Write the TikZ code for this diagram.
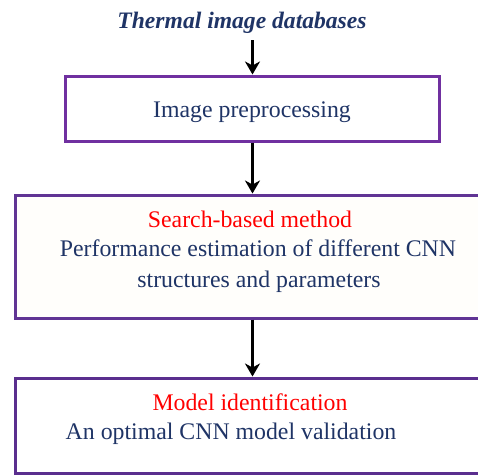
\documentclass[tikz,border=0pt]{standalone}
\usepackage{fontspec}
\setmainfont{Liberation Serif}
\usetikzlibrary{arrows.meta}
\definecolor{navy}{HTML}{1F3466}
\definecolor{purpA}{HTML}{7030A0}
\definecolor{purpB}{HTML}{603494}
\definecolor{purpC}{HTML}{5A2E8E}
\definecolor{cream}{HTML}{FFFEFB}
\tikzset{
  box/.style={draw, line width=3pt, inner sep=0pt, minimum width=#1},
  txt/.style={anchor=base, inner sep=0pt, text=navy, font=\fontsize{23.8}{28}\selectfont},
  redtxt/.style={txt, text=red},
  arr/.style={line width=2.8pt, -{Stealth[length=13pt,width=15pt,inset=4pt]}},
}
\begin{document}
\begin{tikzpicture}[x=1pt,y=-1pt]
\useasboundingbox (0,0) rectangle (478,474);
\fill[white] (0,0) rectangle (478,474);
% title
\node[txt, font=\fontsize{23.6}{28}\selectfont\bfseries\itshape] (title) at (242,28) {Thermal image databases};
\coordinate (tstart) at (252.5,40);
% boxes
\node[box=374pt, draw=purpA, minimum height=65pt] (b1) at (252.5,108.5) {};
\node[box=474pt, draw=purpB, fill=cream, minimum height=123pt] (b2) at (252.5,256.5) {};
\node[box=474pt, draw=purpC, minimum height=95pt] (b3) at (252.5,425.5) {};
% texts
\node[txt] (t1) at (252,117.3) {Image preprocessing};
\node[redtxt] (t2a) at (250,227.5) {Search-based method};
\node[txt] (t2b) at (258,256) {Performance estimation of different CNN};
\node[txt] (t2c) at (259,287.5) {structures and parameters};
\node[redtxt] (t3a) at (250,410.7) {Model identification};
\node[txt] (t3b) at (231,439) {An optimal CNN model validation};
% arrows
\draw[arr] (tstart) -- (b1.north);
\draw[arr] (b1.south) -- (b2.north);
\draw[arr] (b2.south) -- (b3.north);
\end{tikzpicture}
\end{document}
